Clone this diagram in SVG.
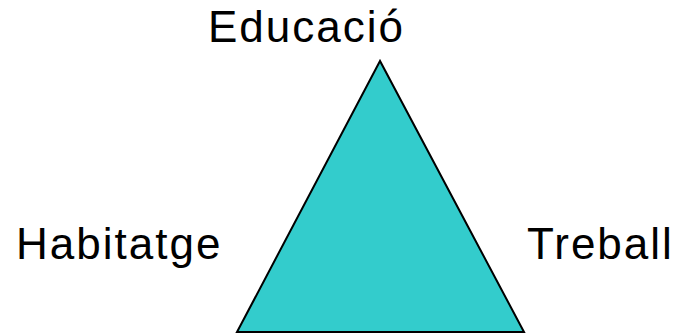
<svg xmlns="http://www.w3.org/2000/svg" width="681" height="334" viewBox="0 0 681 334">
<style>
.lbl{font-family:"Liberation Sans",Arial,sans-serif;font-size:44px;fill:#000;letter-spacing:2px}
</style>
<rect width="681" height="334" fill="#fff"/>
<g id="triangle">
<polygon points="380,61 237,332 524,332" fill="#33CCCC" stroke="#000" stroke-width="2" stroke-linejoin="miter"/>
</g>
<g id="educacio"><text class="lbl" x="208" y="42">Educació</text></g>
<g id="habitatge"><text class="lbl" x="16" y="259">Habitatge</text></g>
<g id="treball"><text class="lbl" x="527" y="259">Treball</text></g>
<g id="connectors"></g>
</svg>
